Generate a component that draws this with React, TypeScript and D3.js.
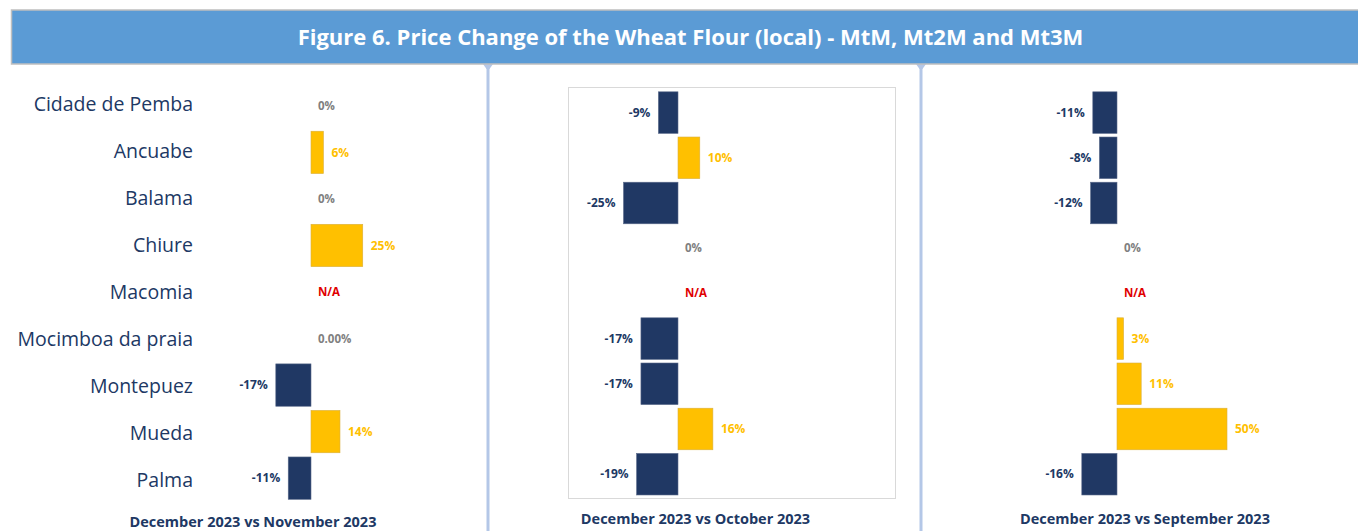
import React from "react";
import * as d3 from "d3";

const categories = [
  "Cidade de Pemba",
  "Ancuabe",
  "Balama",
  "Chiure",
  "Macomia",
  "Mocimboa da praia",
  "Montepuez",
  "Mueda",
  "Palma",
];

const mtmValues: (number | null)[] = [0, 6, 0, 25, null, 0, -17, 14, -11];
const mtmLabels = ["0%", "6%", "0%", "25%", "N/A", "0.00%", "-17%", "14%", "-11%"];

const mt2mValues: (number | null)[] = [-9, 10, -25, 0, null, -17, -17, 16, -19];
const mt2mLabels = ["-9%", "10%", "-25%", "0%", "N/A", "-17%", "-17%", "16%", "-19%"];

const mt3mValues: (number | null)[] = [-11, -8, -12, 0, null, 3, 11, 50, -16];
const mt3mLabels = ["-11%", "-8%", "-12%", "0%", "N/A", "3%", "11%", "50%", "-16%"];

const panelTitles = [
  "December 2023 vs November 2023",
  "December 2023 vs October 2023",
  "December 2023 vs September 2023",
];

const chartTitle = "Figure 6. Price Change of the Wheat Flour (local) - MtM, Mt2M and Mt3M";

const NAVY = "#203864";
const GOLD = "#FFC000";
const GREY = "#808080";
const RED = "#E00000";
const SEP = "#B4C7E7";
const FONT = "'Open Sans', 'Noto Sans', sans-serif";

type PanelCfg = {
  values: (number | null)[];
  labels: string[];
  zero: number;
  pxPer: number;
  yRange: [number, number];
  padding: number;
  caption: string;
  captionX: number;
  captionY: number;
};

function Panel({ cfg }: { cfg: PanelCfg }) {
  const x = d3
    .scaleLinear()
    .domain([-100, 100])
    .range([cfg.zero - cfg.pxPer * 100, cfg.zero + cfg.pxPer * 100]);
  const y = d3.scaleBand<string>().domain(categories).range(cfg.yRange).padding(cfg.padding);
  return (
    <g>
      {categories.map((c, i) => {
        const v = cfg.values[i];
        const lbl = cfg.labels[i];
        const yc = (y(c) as number) + y.bandwidth() / 2;
        if (v === null || v === 0) {
          return (
            <text
              key={c}
              x={x(0) + 7}
              y={yc}
              dy="0.35em"
              fontSize={11.5}
              fontWeight={700}
              fill={v === null ? RED : GREY}
              fontFamily={FONT}
            >
              {lbl}
            </text>
          );
        }
        const x0 = Math.min(x(0), x(v));
        const w = Math.abs(x(v) - x(0));
        const pos = v > 0;
        return (
          <g key={c}>
            <rect
              x={x0}
              y={y(c)}
              width={w}
              height={y.bandwidth()}
              fill={pos ? GOLD : NAVY}
              stroke={pos ? "#D9B040" : "#5A6A8A"}
              strokeWidth={0.6}
            />
            <text
              x={pos ? x(v) + 8 : x(v) - 8}
              y={yc}
              dy="0.35em"
              textAnchor={pos ? "start" : "end"}
              fontSize={12}
              fontWeight={700}
              fill={pos ? GOLD : NAVY}
              fontFamily={FONT}
            >
              {lbl}
            </text>
          </g>
        );
      })}
      <text
        x={cfg.captionX}
        y={cfg.captionY}
        textAnchor="middle"
        fontSize={14.5}
        fontWeight={700}
        fill={NAVY}
        fontFamily={FONT}
      >
        {cfg.caption}
      </text>
    </g>
  );
}

export default function App() {
  const panels: PanelCfg[] = [
    {
      values: mtmValues,
      labels: mtmLabels,
      zero: 311,
      pxPer: 2.07,
      yRange: [80.5, 503.5],
      padding: 0.09,
      caption: panelTitles[0],
      captionX: 253,
      captionY: 526.5,
    },
    {
      values: mt2mValues,
      labels: mt2mLabels,
      zero: 678,
      pxPer: 2.18,
      yRange: [88.2, 498.6],
      padding: 0.08,
      caption: panelTitles[1],
      captionX: 695.5,
      captionY: 524,
    },
    {
      values: mt3mValues,
      labels: mt3mLabels,
      zero: 1117,
      pxPer: 2.2,
      yRange: [88.2, 498.6],
      padding: 0.08,
      caption: panelTitles[2],
      captionX: 1145,
      captionY: 524,
    },
  ];
  const yCat = d3.scaleBand<string>().domain(categories).range([80.5, 503.5]);
  return (
    <svg
      width={1358}
      height={531}
      style={{ position: "absolute", left: 0, top: 0, background: "#fff" }}
    >
      <rect x={0} y={0} width={1358} height={531} fill="#fff" />
      {/* separators */}
      {[488, 921].map((sx) => (
        <g key={sx}>
          <line x1={sx} x2={sx} y1={64} y2={531} stroke={SEP} strokeWidth={3} />
          <path d={`M${sx - 5},64 L${sx + 5},64 L${sx + 1.5},69 L${sx - 1.5},69 Z`} fill={SEP} />
        </g>
      ))}
      {/* title bar */}
      <rect x={11.5} y={10} width={1360} height={54} fill="#5B9BD5" stroke="#BFBFBF" strokeWidth={1.5} />
      <text
        x={690.5}
        y={37}
        dy="0.35em"
        textAnchor="middle"
        fontSize={22}
        fontWeight={700}
        fill="#fff"
        fontFamily={FONT}
      >
        {chartTitle}
      </text>
      {/* inner box for middle panel */}
      <rect x={568.5} y={87.5} width={327} height={411} fill="none" stroke="#D9D9D9" strokeWidth={1} />
      {/* category labels */}
      {categories.map((c) => (
        <text
          key={c}
          x={193}
          y={(yCat(c) as number) + yCat.bandwidth() / 2}
          dy="0.35em"
          textAnchor="end"
          fontSize={19.5}
          fill={NAVY}
          fontFamily={FONT}
        >
          {c}
        </text>
      ))}
      {panels.map((p, i) => (
        <Panel key={i} cfg={p} />
      ))}
    </svg>
  );
}
